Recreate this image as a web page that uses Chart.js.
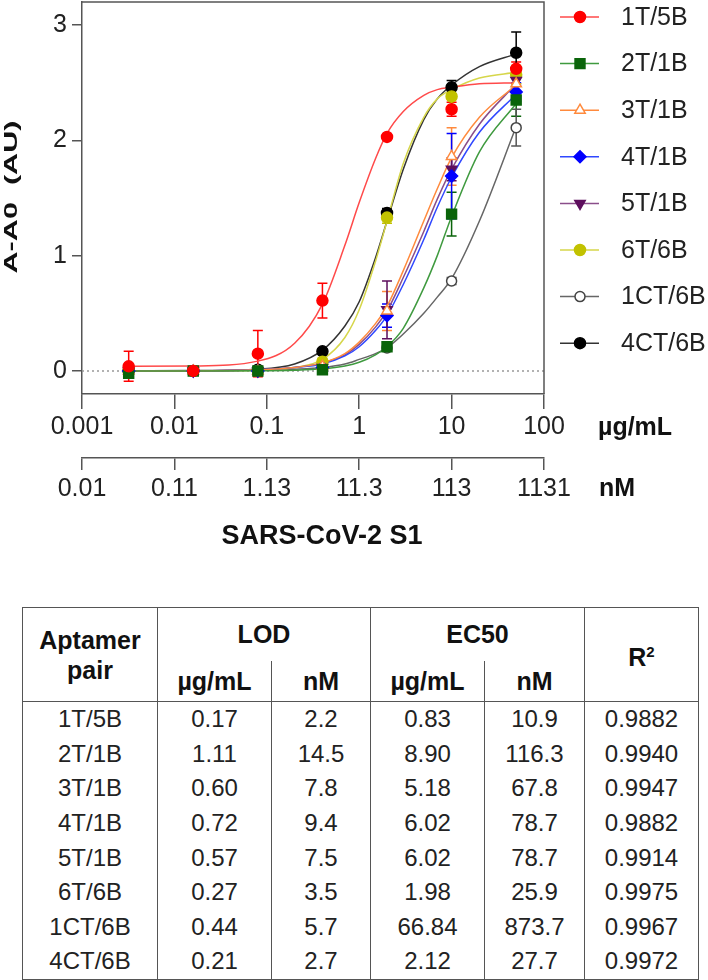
<!DOCTYPE html>
<html>
<head>
<meta charset="utf-8">
<script src="https://cdn.jsdelivr.net/npm/chart.js@4.4.1/dist/chart.umd.min.js"></script>
<style>
  body { margin: 0; background: #fff; width: 708px; height: 980px; position: relative; overflow: hidden;
         font-family: 'Liberation Sans', Arial, sans-serif; color: #222; }
  #chartBox { position: absolute; left: 0; top: 0; width: 708px; height: 560px; }
  table { position: absolute; left: 22px; top: 607px; border-collapse: collapse; table-layout: fixed;
          border: 1.5px solid #555; }
  th, td { text-align: center; padding: 0; }
  th { font-weight: bold; font-size: 25px; color: #111; }
  td { font-size: 24px; height: 34.6px; border-left: 1.5px solid #555; border-right: 1.5px solid #555; }
  .h1 th { height: 53px; vertical-align: middle; }
  .h2 th { height: 40px; border-bottom: 1.5px solid #555; }
  th.rs { border-left: 1.5px solid #555; border-right: 1.5px solid #555; border-bottom: 1.5px solid #555; line-height: 30px; }
  th.sub { border-left: 1.5px solid #555; }
  sup { font-size: 15px; }
</style>
</head>
<body>
<div id="chartBox"><canvas id="doseChart"></canvas></div>
<table id="statsTable">
  <colgroup>
    <col style="width:135px"><col style="width:114px"><col style="width:99px">
    <col style="width:114px"><col style="width:100px"><col style="width:114px">
  </colgroup>
  <thead>
    <tr class="h1">
      <th rowspan="2" class="rs">Aptamer<br>pair</th>
      <th colspan="2" style="border-left:1.5px solid #555">LOD</th>
      <th colspan="2" style="border-left:1.5px solid #555">EC50</th>
      <th rowspan="2" class="rs">R<sup>2</sup></th>
    </tr>
    <tr class="h2">
      <th style="border-left:1.5px solid #555">µg/mL</th><th class="sub">nM</th>
      <th style="border-left:1.5px solid #555">µg/mL</th><th class="sub">nM</th>
    </tr>
  </thead>
  <tbody id="tableBody"></tbody>
</table>

<script>
// ---------------------------
// Données du graphique
const seriesNames = ['1T/5B', '2T/1B', '3T/1B', '4T/1B', '5T/1B', '6T/6B', '1CT/6B', '4CT/6B'];

// concentrations mesurées (µg/mL)
const concentrations = [0.0032, 0.016, 0.08, 0.4, 2, 10, 50];

// moyennes A-A0 par paire
const mean1T5B  = [0.04, 0.0, 0.15, 0.61, 2.03, 2.27, 2.62];
const mean2T1B  = [-0.02, 0.0, 0.0, 0.01, 0.21, 1.36, 2.35];
const mean3T1B  = [0.0, 0.0, 0.0, 0.04, 0.52, 1.86, 2.49];
const mean4T1B  = [0.0, 0.0, 0.0, 0.03, 0.48, 1.69, 2.42];
const mean5T1B  = [0.0, 0.0, 0.0, 0.03, 0.53, 1.75, 2.52];
const mean6T6B  = [0.0, 0.0, 0.0, 0.08, 1.33, 2.38, 2.57];
const mean1CT6B = [0.0, 0.0, 0.0, 0.02, 0.2, 0.78, 2.11];
const mean4CT6B = [0.0, 0.0, 0.01, 0.17, 1.37, 2.46, 2.76];

// barres d'erreur (écart-type)
const err1T5B  = [0.13, 0.01, 0.2, 0.15, 0.02, 0.06, 0.06];
const err2T1B  = [0.02, 0.01, 0.03, 0.03, 0.04, 0.19, 0.14];
const err3T1B  = [0.01, 0.01, 0.02, 0.05, 0.17, 0.25, 0.1];
const err4T1B  = [0.01, 0.01, 0.02, 0.03, 0.1, 0.37, 0.08];
const err5T1B  = [0.01, 0.01, 0.02, 0.03, 0.25, 0.1, 0.05];
const err6T6B  = [0.01, 0.01, 0.01, 0.03, 0.05, 0.1, 0.08];
const err1CT6B = [0.01, 0.01, 0.01, 0.02, 0.02, 0.03, 0.16];
const err4CT6B = [0.01, 0.01, 0.02, 0.02, 0.04, 0.06, 0.18];

// courbes d'ajustement
const fitConc  = [0.0032, 0.016, 0.08, 0.2, 0.4, 0.7, 1, 1.5, 2, 3, 5, 7, 10, 20, 50];
const fit1T5B  = [0.04, 0.043, 0.085, 0.24, 0.58, 1.09, 1.46, 1.84, 2.06, 2.25, 2.39, 2.44, 2.46, 2.49, 2.5];
const fit2T1B  = [0, 0, 0.001, 0.006, 0.018, 0.043, 0.075, 0.14, 0.21, 0.37, 0.72, 1.0, 1.34, 1.9, 2.32];
const fit3T1B  = [0, 0, 0.01, 0.03, 0.07, 0.15, 0.25, 0.41, 0.56, 0.87, 1.3, 1.58, 1.85, 2.2, 2.48];
const fit4T1B  = [0, 0, 0.01, 0.03, 0.06, 0.13, 0.21, 0.35, 0.48, 0.75, 1.14, 1.42, 1.68, 2.07, 2.4];
const fit5T1B  = [0, 0, 0.01, 0.03, 0.07, 0.14, 0.23, 0.38, 0.52, 0.81, 1.21, 1.49, 1.75, 2.14, 2.49];
const fit6T6B  = [0, 0, 0.005, 0.03, 0.1, 0.29, 0.53, 0.95, 1.3, 1.8, 2.2, 2.36, 2.44, 2.54, 2.59];
const fit1CT6B = [0, 0, 0.005, 0.015, 0.03, 0.06, 0.1, 0.15, 0.2, 0.32, 0.5, 0.64, 0.8, 1.3, 2.12];
const fit4CT6B = [0, 0.003, 0.015, 0.06, 0.18, 0.39, 0.6, 0.98, 1.3, 1.75, 2.18, 2.36, 2.48, 2.64, 2.75];

// axes
const ugTicks  = [0.001, 0.01, 0.1, 1, 10, 100];
const ugLabels = ['0.001', '0.01', '0.1', '1', '10', '100'];
const nMLabels = ['0.01', '0.11', '1.13', '11.3', '113', '1131'];
const yTicks   = [0, 1, 2, 3];

// tableau
const lodUg  = ['0.17', '1.11', '0.60', '0.72', '0.57', '0.27', '0.44', '0.21'];
const lodNM  = ['2.2', '14.5', '7.8', '9.4', '7.5', '3.5', '5.7', '2.7'];
const ec50Ug = ['0.83', '8.90', '5.18', '6.02', '6.02', '1.98', '66.84', '2.12'];
const ec50NM = ['10.9', '116.3', '67.8', '78.7', '78.7', '25.9', '873.7', '27.7'];
const rSq    = ['0.9882', '0.9940', '0.9947', '0.9882', '0.9914', '0.9975', '0.9967', '0.9972'];

// ---------------------------
// Styles des séries
const means = [mean1T5B, mean2T1B, mean3T1B, mean4T1B, mean5T1B, mean6T6B, mean1CT6B, mean4CT6B];
const errs  = [err1T5B, err2T1B, err3T1B, err4T1B, err5T1B, err6T6B, err1CT6B, err4CT6B];
const fits  = [fit1T5B, fit2T1B, fit3T1B, fit4T1B, fit5T1B, fit6T6B, fit1CT6B, fit4CT6B];

const styles = [
  { line: '#ff4a4a', mark: '#ff0000', fill: '#ff0000', shape: 'circle',   r: 5.5, rot: 0 },
  { line: '#3f9a3f', mark: '#0a640a', fill: '#0a640a', shape: 'rect',     r: 7,   rot: 0 },
  { line: '#ff8a3d', mark: '#ff8a3d', fill: '#ffffff', shape: 'triangle', r: 6,   rot: 0 },
  { line: '#3048ff', mark: '#0000ff', fill: '#0000ff', shape: 'rectRot',  r: 6,   rot: 0 },
  { line: '#8a4e8a', mark: '#5e0f5e', fill: '#5e0f5e', shape: 'triangle', r: 6,   rot: 180 },
  { line: '#d6d64a', mark: '#c2c200', fill: '#c2c200', shape: 'circle',   r: 5.5, rot: 0 },
  { line: '#666666', mark: '#444444', fill: '#ffffff', shape: 'circle',   r: 5,   rot: 0 },
  { line: '#333333', mark: '#000000', fill: '#000000', shape: 'circle',   r: 5.5, rot: 0 }
];

// ---------------------------
// Remplissage du tableau
const tbody = document.getElementById('tableBody');
seriesNames.forEach((name, i) => {
  const tr = document.createElement('tr');
  [name, lodUg[i], lodNM[i], ec50Ug[i], ec50NM[i], rSq[i]].forEach(v => {
    const td = document.createElement('td');
    td.textContent = v;
    tr.appendChild(td);
  });
  tbody.appendChild(tr);
});

// ---------------------------
// Datasets
const datasets = [];
datasets.push({
  label: 'zero',
  data: [{ x: 0.001, y: 0 }, { x: 100, y: 0 }],
  borderColor: '#999',
  borderWidth: 1.5,
  borderDash: [2, 3],
  pointRadius: 0,
  order: 3
});
seriesNames.forEach((name, i) => {
  const st = styles[i];
  datasets.push({
    label: name + ' fit',
    data: fitConc.map((x, k) => ({ x: x, y: fits[i][k] })),
    borderColor: st.line,
    borderWidth: 1.5,
    pointRadius: 0,
    cubicInterpolationMode: 'monotone',
    order: 2
  });
});
seriesNames.forEach((name, i) => {
  const st = styles[i];
  datasets.push({
    label: name,
    data: concentrations.map((x, k) => ({ x: x, y: means[i][k] })),
    showLine: false,
    pointStyle: st.shape,
    pointRotation: st.rot,
    pointRadius: st.r,
    pointBackgroundColor: st.fill,
    pointBorderColor: st.mark,
    pointBorderWidth: 1.5,
    order: 1
  });
});

const axisColor = '#555';
const fontFam = "'Liberation Sans', Arial, sans-serif";

function drawMarker(ctx, st, x, y) {
  ctx.save();
  ctx.fillStyle = st.fill;
  ctx.strokeStyle = st.mark;
  ctx.lineWidth = 1.5;
  Chart.helpers.drawPoint(ctx, { pointStyle: st.shape, radius: st.r, rotation: st.rot, borderWidth: 1.5 }, x, y);
  ctx.restore();
}

// pas de marge automatique au-dessus/dessous des axes
function noPad(s) {
  s.paddingTop = 0; s.paddingBottom = 0; s.paddingLeft = 0; s.paddingRight = 0;
}

// plugin : barres d'erreur, cadre, légende et textes
const extrasPlugin = {
  id: 'extras',
  beforeDatasetsDraw(chart) {
    const ctx = chart.ctx;
    const xs = chart.scales.x, ys = chart.scales.y;
    ctx.save();
    ctx.lineWidth = 1.5;
    means.forEach((m, i) => {
      ctx.strokeStyle = styles[i].mark === '#444444' ? '#555' : styles[i].mark;
      concentrations.forEach((c, k) => {
        const px = xs.getPixelForValue(c);
        const yt = ys.getPixelForValue(m[k] + errs[i][k]);
        const yb = ys.getPixelForValue(m[k] - errs[i][k]);
        ctx.beginPath();
        ctx.moveTo(px, yt); ctx.lineTo(px, yb);
        ctx.moveTo(px - 5, yt); ctx.lineTo(px + 5, yt);
        ctx.moveTo(px - 5, yb); ctx.lineTo(px + 5, yb);
        ctx.stroke();
      });
    });
    ctx.restore();
  },
  afterDraw(chart) {
    const ctx = chart.ctx;
    const a = chart.chartArea;
    ctx.save();
    // cadre haut et droite
    ctx.strokeStyle = axisColor;
    ctx.lineWidth = 1.5;
    ctx.beginPath();
    ctx.moveTo(a.left, a.top); ctx.lineTo(a.right, a.top); ctx.lineTo(a.right, a.bottom);
    ctx.stroke();

    // unités des axes
    ctx.fillStyle = '#111';
    ctx.font = 'bold 25px ' + fontFam;
    ctx.textAlign = 'left';
    ctx.textBaseline = 'middle';
    ctx.fillText('µg/mL', 598, 428);
    ctx.fillText('nM', 599, 489);

    // titre axe x
    ctx.font = 'bold 27px ' + fontFam;
    ctx.textAlign = 'center';
    ctx.fillText('SARS-CoV-2 S1', 322, 537);

    // titre axe y (texte étiré dans le sens de la lecture, comme sur la figure)
    ctx.save();
    ctx.translate(17, 197);
    ctx.rotate(-Math.PI / 2);
    ctx.scale(1.7, 1);
    ctx.font = 'bold 18px ' + fontFam;
    ctx.textAlign = 'center';
    ctx.textBaseline = 'alphabetic';
    ctx.fillText('A-A0  (AU)', 0, 0);
    ctx.restore();

    // légende
    seriesNames.forEach((name, i) => {
      const y = 17 + i * 46.6;
      ctx.strokeStyle = styles[i].line;
      ctx.lineWidth = 1.5;
      ctx.beginPath();
      ctx.moveTo(560, y); ctx.lineTo(599, y);
      ctx.stroke();
      drawMarker(ctx, styles[i], 580, y);
      ctx.fillStyle = '#222';
      ctx.font = '25px ' + fontFam;
      ctx.textAlign = 'left';
      ctx.textBaseline = 'middle';
      ctx.fillText(name, 621, y + 1);
    });
    ctx.restore();
  }
};

Chart.defaults.font.family = fontFam;
Chart.defaults.color = '#222';

new Chart(document.getElementById('doseChart').getContext('2d'), {
  type: 'line',
  data: { datasets: datasets },
  plugins: [extrasPlugin],
  options: {
    responsive: true,
    maintainAspectRatio: false,
    animation: false,
    layout: { autoPadding: false, padding: { left: 0, top: 2, right: 164, bottom: 52 } },
    plugins: { legend: { display: false }, tooltip: { enabled: false } },
    scales: {
      x: {
        type: 'logarithmic',
        position: 'bottom',
        weight: 0,
        min: 0.001, max: 100,
        afterBuildTicks: s => { s.ticks = ugTicks.map(v => ({ value: v })); },
        afterFit: s => { s.height = 64; noPad(s); },
        ticks: { callback: (v, i) => ugLabels[i], font: { size: 25 }, color: '#222', padding: 3, maxRotation: 0, autoSkip: false },
        grid: { drawOnChartArea: false, drawTicks: true, tickLength: 15, color: axisColor, lineWidth: 1.5 },
        border: { display: true, color: axisColor, width: 1.5 }
      },
      x2: {
        axis: 'x',
        type: 'logarithmic',
        position: 'bottom',
        weight: 1,
        min: 0.001, max: 100,
        afterBuildTicks: s => { s.ticks = ugTicks.map(v => ({ value: v })); },
        afterFit: s => { s.height = 50; noPad(s); },
        ticks: { callback: (v, i) => nMLabels[i], font: { size: 25 }, color: '#222', padding: 4, maxRotation: 0, autoSkip: false },
        grid: { drawOnChartArea: false, drawTicks: true, tickLength: 12, color: axisColor, lineWidth: 1.5 },
        border: { display: true, color: axisColor, width: 1.5 }
      },
      y: {
        min: -0.2, max: 3.2,
        afterBuildTicks: s => { s.ticks = yTicks.map(v => ({ value: v })); },
        afterFit: s => { s.width = 82; noPad(s); },
        ticks: { font: { size: 25 }, color: '#222', padding: 5 },
        grid: { drawOnChartArea: false, drawTicks: true, tickLength: 10, color: axisColor, lineWidth: 1.5 },
        border: { display: true, color: axisColor, width: 1.5 }
      }
    }
  }
});
</script>
</body>
</html>
